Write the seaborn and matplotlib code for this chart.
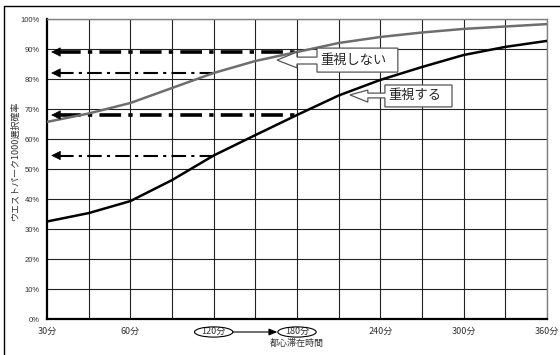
import matplotlib
matplotlib.use("Agg")
import matplotlib.pyplot as plt
from matplotlib.patches import Polygon, Ellipse
from matplotlib.lines import Line2D
import seaborn as sns
import pandas as pd
import numpy as np

# Stay time in central Tokyo (minutes) and the choice probability of "West Park 1000"
minutes = [30, 45, 60, 90, 120, 150, 180, 210, 240, 270, 300, 330, 360]
tick_minutes = [30, 60, 120, 180, 240, 300, 360]
not_important = [65.7, 68.5, 72.0, 77.0, 82.0, 86.0, 89.0, 92.0, 94.0, 95.5, 96.7, 97.5, 98.3]
important = [32.5, 35.3, 39.3, 46.3, 54.5, 61.3, 68.0, 74.5, 79.7, 84.0, 88.0, 90.7, 92.7]
series_names = ["重視しない", "重視する"]

sns.set_style("white")
plt.rcParams["font.family"] = ["Liberation Sans", "Noto Sans CJK JP", "DejaVu Sans"]
JP = ["Noto Sans CJK JP", "Liberation Sans"]

pos = np.arange(len(minutes))
df = pd.DataFrame({
    "pos": np.concatenate([pos, pos]),
    "prob": not_important + important,
    "series": [series_names[0]] * len(pos) + [series_names[1]] * len(pos),
})

fig = plt.figure(figsize=(5.6, 3.55), dpi=100)
ax = fig.add_axes([47 / 560, 1 - 319 / 355, 500 / 560, 300 / 355])

sns.lineplot(data=df, x="pos", y="prob", hue="series", hue_order=series_names,
             palette=["#6e6e6e", "#000000"], linewidth=1.8, legend=False, ax=ax, zorder=4)

ax.set_xlim(0, len(minutes) - 1)
ax.set_ylim(0, 100)

# grid
for p in pos[1:]:
    ax.axvline(p, color="#222222", lw=0.8, zorder=1)
for v in range(10, 101, 10):
    ax.axhline(v, color="#222222", lw=0.8, zorder=1)

ax.set_yticks(range(0, 101, 10))
ax.set_yticklabels([f"{v}%" for v in range(0, 101, 10)], fontsize=5.5, color="#333333")
tick_pos = [minutes.index(m) for m in tick_minutes]
ax.set_xticks(tick_pos)
ax.set_xticklabels([f"{m}分" for m in tick_minutes], fontsize=6.5, family=JP, color="#333333")
ax.tick_params(axis="both", length=2, width=0.8, color="black", pad=3, direction="out")
ax.tick_params(axis="x", pad=4)

for side in ["top", "right"]:
    ax.spines[side].set_color("#808080")
    ax.spines[side].set_linewidth(1.0)
for side in ["left", "bottom"]:
    ax.spines[side].set_color("black")
    ax.spines[side].set_linewidth(1.6)

ax.set_xlabel("都心滞在時間", fontsize=6.5, family=JP, color="#333333")
ax.set_ylabel("ウエストパーク1000選択確率", fontsize=6.5, family=JP, color="#333333")
ax.xaxis.set_label_coords((297 - 47) / 500, -(343 - 319) / 300)
ax.yaxis.set_label_coords(-(47 - 15) / 500, (319 - 160) / 300)
ax.xaxis.label.set_va("center")
ax.yaxis.label.set_va("center")

# dash-dot guide arrows from the curves back to the probability axis
guides = [
    (minutes.index(180), not_important[minutes.index(180)], 2.6),
    (minutes.index(120), not_important[minutes.index(120)], 1.5),
    (minutes.index(180), important[minutes.index(180)], 2.6),
    (minutes.index(120), important[minutes.index(120)], 1.5),
]
for xe, yv, lw in guides:
    ax.plot([0.3, xe], [yv, yv], color="black", lw=lw,
            dashes=(6, 2, 1.2, 2) if lw > 2 else (7, 2.5, 1.5, 2.5), zorder=3,
            solid_capstyle="butt", dash_capstyle="butt")
    ax.annotate("", xy=(0.1, yv), xytext=(0.35, yv),
                arrowprops=dict(arrowstyle="-|>,head_length=0.6,head_width=0.3",
                                color="black", lw=0.5, shrinkA=0, shrinkB=0), zorder=5)

# callouts
callout1 = [(6.48, 90.3), (8.42, 90.3), (8.42, 82.3), (6.48, 82.3), (6.48, 85.0),
            (6.0, 85.0), (6.0, 83.7), (5.52, 86.3), (6.0, 89.0), (6.0, 87.3), (6.48, 87.3)]
callout2 = [(8.11, 78.0), (9.72, 78.0), (9.72, 70.7), (8.11, 70.7), (8.11, 73.7),
            (7.70, 73.7), (7.70, 72.3), (7.27, 74.7), (7.70, 76.3), (7.70, 75.3), (8.11, 75.3)]
for verts in (callout1, callout2):
    ax.add_patch(Polygon(verts, closed=True, facecolor="white", edgecolor="#555555",
                         lw=0.9, zorder=6))
ax.text(6.55, 86.3, series_names[0], fontsize=9.5, family=JP, va="center", ha="left", zorder=7)
ax.text(8.18, 74.4, series_names[1], fontsize=9.5, family=JP, va="center", ha="left", zorder=7)

# highlight the 120 → 180 minute shift on the time axis
lab_y = -(332 - 319) / 300 * 100
for p in (minutes.index(120), minutes.index(180)):
    ax.add_patch(Ellipse((p, lab_y), 0.92, 3.4, facecolor="none", edgecolor="black",
                         lw=0.8, clip_on=False, zorder=6))
ax.annotate("", xy=(minutes.index(180) - 0.47, lab_y), xytext=(minutes.index(120) + 0.46, lab_y),
            arrowprops=dict(arrowstyle="-|>,head_length=0.5,head_width=0.2", color="black",
                            lw=0.8, shrinkA=0, shrinkB=0), annotation_clip=False)

# outer frame
fig.add_artist(Line2D([4 / 560, 1], [1 - 6 / 355] * 2, color="black", lw=1.0))
fig.add_artist(Line2D([4 / 560] * 2, [0, 1 - 6 / 355], color="black", lw=1.0))

fig.savefig("out.png", dpi=100, facecolor="white")
